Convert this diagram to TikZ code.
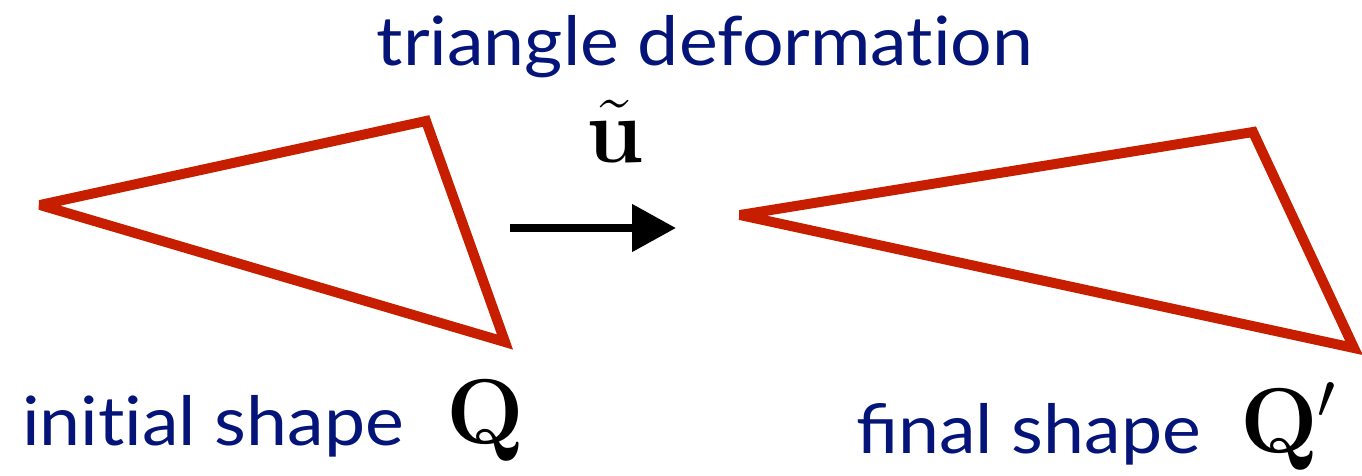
\RequirePackage{fix-cm}
\documentclass[tikz,border=0pt]{standalone}
\usepackage{amsmath}
\usepackage[no-math]{fontspec}
\setmainfont{Lato}[Ligatures=NoCommon, FakeStretch=1.08]
\usetikzlibrary{arrows.meta}
\definecolor{shapered}{RGB}{200,30,0}
\definecolor{labelblue}{RGB}{5,20,120}

\begin{document}
\begin{tikzpicture}[
  x=1pt, y=-1pt,
  tri/.style={draw=shapered, line width=10pt, line join=miter, miter limit=3},
  caption/.style={inner sep=0pt, text=labelblue, font=\fontsize{68}{72}\selectfont},
  sym/.style={inner sep=0pt, font=\fontsize{92}{96}\selectfont},
  move/.style={line width=8pt, -{Triangle[length=44pt, width=46pt]}}
]
\useasboundingbox (0,0) rectangle (1362,475);

% initial triangle
\coordinate (a1) at (40,205);
\coordinate (b1) at (426,121);
\coordinate (c1) at (505,342);
\draw[tri] (a1) -- (b1) -- (c1) -- cycle;

% final triangle
\coordinate (a2) at (740,215);
\coordinate (b2) at (1253,132);
\coordinate (c2) at (1354,348);
\draw[tri] (a2) -- (b2) -- (c2) -- cycle;

% deformation arrow
\coordinate (from) at (510,228);
\coordinate (to) at (676,228);
\draw[move] (from) -- (to);
\node[sym, anchor=base] (u) at (615,162) {$\tilde{\mathbf{u}}$};

% texts
\node[caption, anchor=base] (title) at (705,65) {triangle deformation};
\node[caption, anchor=base west] (init) at (22,445) {initial shape};
\node[sym, anchor=base west] (q) at (446,443) {$\mathbf{Q}$};
\node[caption, anchor=base west] (final) at (856,453) {^^^^fb01nal shape};
\node[sym, anchor=base west] (qq) at (1240,452) {$\mathbf{Q}'$};
\end{tikzpicture}
\end{document}
